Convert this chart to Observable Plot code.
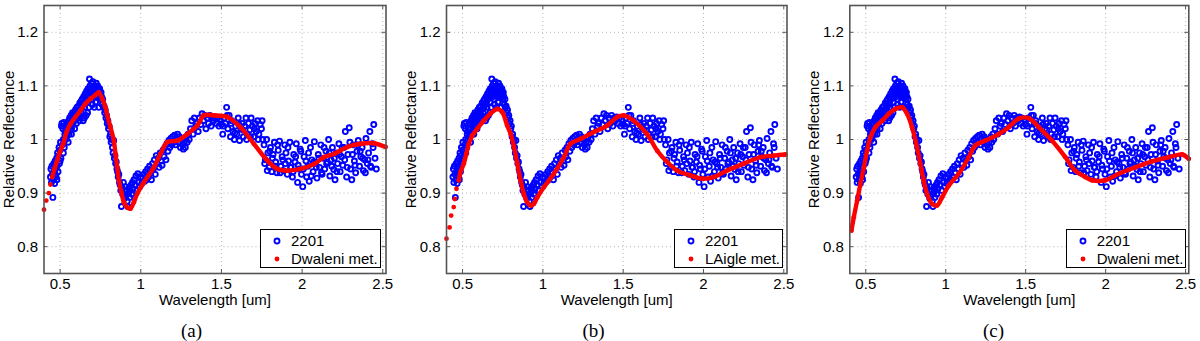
<!DOCTYPE html>
<html><head><meta charset="utf-8">
<script src="https://cdn.jsdelivr.net/npm/d3@7"></script>
<script src="https://cdn.jsdelivr.net/npm/@observablehq/plot@0.6"></script>
<style>
body{margin:0;background:#fff;}
#wrap{position:relative;width:1200px;height:341px;overflow:hidden;font-family:"Liberation Sans",Arial,sans-serif;}
.panel{position:absolute;top:0;}
.legend{position:absolute;background:#fff;border:1px solid #000;box-sizing:border-box;font-size:15px;color:#000;}
.legend .row{position:absolute;left:0;height:18px;line-height:18px;white-space:nowrap;}
.legend svg{position:absolute;top:4px;}
.legend span{position:absolute;}
.cap{position:absolute;top:321px;line-height:20px;font-family:"Liberation Serif","Times New Roman",serif;font-size:19px;transform:translateX(-50%);color:#000;}
</style></head><body><div id="wrap"></div>
<script>
// ---- data ----
const xTicks = [0.5, 1, 1.5, 2, 2.5];
const yTicks = [0.8, 0.9, 1.0, 1.1, 1.2];
const panelLabels = ["(a)", "(b)", "(c)"];
const blueName = "2201";
const redNames = ["Dwaleni met.", "LAigle met.", "Dwaleni met."];

// asteroid 2201 spectrum (blue circles)
const blueX = [
0.440,0.443,0.446,0.449,0.452,0.455,0.458,0.460,0.463,0.466,0.469,0.472,0.475,0.478,0.481,0.484,0.487,0.490,0.493,0.496,0.499,
0.502,0.505,0.508,0.511,0.514,0.517,0.520,0.523,0.526,0.529,0.532,0.535,0.538,0.541,0.544,0.547,0.550,0.553,0.556,0.559,
0.562,0.565,0.568,0.571,0.574,0.577,0.580,0.583,0.586,0.589,0.592,0.595,0.598,0.601,0.604,0.607,0.610,0.613,0.616,0.619,0.622,0.625,0.628,0.631,0.634,0.637,0.640,0.643,0.646,0.649,0.652,0.655,0.658,0.661,
0.664,0.667,0.670,0.673,0.676,0.679,0.682,0.685,0.688,0.691,0.694,0.697,0.700,0.703,0.706,0.709,0.712,0.715,0.718,0.721,0.724,0.727,0.730,0.733,0.736,0.739,0.742,0.745,0.748,0.751,0.754,0.757,0.760,0.764,0.768,0.772,0.776,0.780,0.784,0.788,0.792,0.796,
0.800,0.804,0.808,0.812,0.816,0.820,0.824,0.828,0.832,0.836,0.840,0.844,0.848,0.852,0.856,0.860,0.864,0.868,0.872,0.876,0.880,0.884,0.888,0.892,0.896,0.900,0.904,0.908,0.912,0.916,0.920,0.924,0.928,0.932,0.936,0.940,0.944,0.948,0.952,
0.958,0.964,0.970,0.976,0.982,0.988,0.994,1.000,1.006,1.012,1.018,1.024,1.030,1.036,1.042,1.048,1.054,1.060,1.066,1.072,1.078,1.084,1.090,1.096,1.102,1.108,1.114,
1.120,1.126,1.132,1.138,1.144,1.150,1.156,1.162,1.168,1.174,1.180,1.186,1.192,1.198,1.204,1.210,1.216,1.222,1.228,1.234,1.240,1.246,1.252,1.258,1.264,1.270,1.276,1.282,1.288,1.294,
1.300,1.308,1.316,1.324,1.332,1.340,1.348,1.356,1.364,1.372,1.380,1.388,1.396,1.404,1.412,1.420,1.428,1.436,1.444,1.452,1.460,1.468,1.476,1.484,1.492,1.500,
1.508,1.516,1.524,1.532,1.540,1.548,1.556,1.564,1.572,1.580,1.588,1.596,1.604,1.612,1.620,1.628,1.636,1.644,1.652,1.660,1.668,1.676,1.684,1.692,1.700,1.708,1.716,1.724,1.732,1.740,1.748,1.756,
1.764,1.772,1.780,1.788,1.796,1.804,1.812,1.820,1.828,1.836,1.844,1.852,1.860,1.868,1.876,1.884,1.892,1.900,1.908,1.916,1.924,1.932,1.940,1.948,1.956,1.964,1.972,1.980,1.988,1.996,
2.004,2.012,2.020,2.028,2.036,2.044,2.052,2.060,2.068,2.076,2.084,2.092,2.100,2.108,2.116,2.124,2.132,2.140,2.148,2.156,2.164,2.172,2.180,2.188,2.196,2.204,2.212,2.220,2.228,2.236,2.244,
2.252,2.260,2.268,2.276,2.284,2.292,2.300,2.308,2.316,2.324,2.332,2.340,2.348,2.356,2.364,2.372,2.380,2.388,2.396,2.404,2.412,2.420,2.428,2.436,2.444,2.452,2.460,
0.470,0.480,0.500,0.520,0.550,0.570,0.590,0.620,0.650,0.670,0.700,0.720,0.740,
1.512,1.536,1.560,1.584,1.608,1.632,1.656,1.680,1.704,1.728,1.752,
1.768,1.784,1.800,1.816,1.832,1.848,1.864,1.880,1.896,1.912,1.928,1.944,1.960,1.976,1.992,2.008,2.024,2.040,2.056,2.072,2.088,2.104,2.120,2.136,2.152,2.168,2.184,2.200,2.216,2.232,2.248,2.264,2.280,2.296,2.312,2.328,2.344,2.360,2.376,2.392,2.408,2.424,2.440
];
const blueY = [
0.930,0.945,0.920,0.950,0.935,0.892,0.925,0.955,0.940,0.918,0.960,0.945,0.930,0.965,0.950,0.975,0.940,0.970,0.985,0.955,0.980,
0.995,0.965,1.025,1.030,0.990,1.020,1.000,1.032,0.985,1.010,1.015,1.000,1.022,1.005,1.030,1.012,1.020,1.035,1.010,1.040,
1.025,1.030,1.045,1.020,1.038,1.050,1.030,1.045,1.035,1.050,1.040,1.055,1.045,1.030,1.060,1.050,1.040,1.062,1.055,1.045,1.068,1.058,1.050,1.072,1.060,1.075,1.065,1.035,1.080,1.070,1.060,1.085,1.075,1.045,
1.090,1.080,1.070,1.095,1.085,1.060,1.113,1.100,1.090,1.080,1.105,1.095,1.075,1.108,1.098,1.085,1.060,1.100,1.090,1.080,1.105,1.095,1.085,1.100,1.078,1.092,1.082,1.095,1.085,1.075,1.088,1.080,1.065,1.075,1.060,1.062,1.050,1.055,1.040,1.045,1.030,1.035,
1.020,1.025,1.005,1.010,0.995,1.000,0.985,0.975,0.998,0.965,0.970,0.955,0.958,0.945,0.940,0.930,0.935,0.920,0.915,0.905,0.875,0.910,0.898,0.920,0.905,0.890,0.912,0.895,0.905,0.885,0.875,0.900,0.910,0.892,0.905,0.915,0.898,0.920,0.908,
0.925,0.915,0.932,0.905,0.936,0.920,0.912,0.930,0.918,0.928,0.935,0.922,0.940,0.925,0.945,0.930,0.950,0.938,0.925,0.955,0.945,0.962,0.935,0.970,0.955,0.965,0.948,
0.975,0.960,0.952,0.980,0.968,0.985,0.962,0.992,0.978,0.998,0.985,1.002,0.990,1.005,0.995,1.008,0.990,1.000,1.010,0.995,1.005,0.985,1.000,0.990,0.982,0.995,0.985,1.005,0.995,1.010,
1.000,1.020,1.035,1.010,1.040,1.025,1.030,1.015,1.040,1.028,1.048,1.035,1.045,1.020,1.040,1.030,1.045,1.025,1.040,1.035,1.042,1.030,1.040,1.025,1.038,1.028,
1.010,1.040,1.030,1.060,1.020,1.045,1.005,1.035,1.015,1.000,1.025,1.010,1.040,0.998,1.020,1.030,1.005,1.025,1.040,1.010,1.030,1.018,1.040,1.025,1.005,1.030,1.015,1.035,1.010,1.028,1.020,1.000,
0.990,0.962,1.000,0.975,0.948,0.985,0.940,0.972,0.995,0.958,0.938,0.980,0.997,0.950,0.968,0.942,0.990,0.975,0.935,0.960,0.995,0.948,0.930,0.972,0.958,0.992,0.920,0.945,0.982,0.935,
0.912,0.968,0.998,0.930,0.950,0.922,0.985,0.962,0.940,0.996,0.955,0.928,0.972,0.948,0.990,0.935,0.965,0.945,0.978,0.958,1.000,0.932,0.962,0.985,0.944,0.925,0.975,0.955,0.992,0.940,0.968,
0.952,0.985,1.015,0.930,0.972,1.022,0.945,0.925,0.990,0.960,0.938,0.978,0.998,0.950,0.968,0.985,0.942,0.962,1.002,0.955,0.975,1.015,0.948,0.992,1.028,0.965,0.945,
0.935,0.925,0.960,0.975,0.995,1.010,1.020,1.035,1.040,1.050,1.065,1.070,1.060,
1.025,1.045,1.030,1.012,1.028,1.018,1.000,1.005,1.020,1.000,1.035,
0.955,0.942,0.978,0.965,0.950,0.990,0.938,0.962,0.955,0.985,0.948,0.940,0.968,0.952,0.978,0.945,0.960,0.975,0.932,0.958,0.948,0.965,0.938,0.985,0.955,0.975,0.950,0.965,0.940,0.972,0.985,0.962,0.948,0.995,0.972,0.952,0.990,0.978,0.965,0.938,0.962,0.950,0.985
];

// meteorite fits (red dots)
const redAX = [0.400,0.414,0.430,0.440,0.451,0.465,0.482,0.498,0.519,0.540,0.564,0.595,0.626,0.657,0.688,0.719,0.740,0.761,0.781,0.792,0.812,0.833,0.843,0.854,0.864,0.879,0.895,0.916,0.936,0.957,0.978,1.019,1.081,1.122,1.164,1.226,1.288,1.350,1.391,1.453,1.536,1.618,1.701,1.784,1.846,1.908,1.990,2.073,2.135,2.197,2.280,2.362,2.445,2.517];
const redAY = [0.869,0.886,0.900,0.916,0.930,0.945,0.961,0.976,0.992,1.014,1.029,1.042,1.054,1.067,1.076,1.083,1.088,1.076,1.060,1.045,1.023,0.998,0.973,0.948,0.924,0.902,0.883,0.873,0.871,0.883,0.899,0.920,0.948,0.973,0.995,0.998,1.010,1.026,1.045,1.045,1.042,1.023,0.992,0.961,0.945,0.942,0.945,0.954,0.967,0.973,0.986,0.992,0.993,0.986];
const redBX = [0.400,0.419,0.429,0.445,0.452,0.462,0.477,0.487,0.508,0.523,0.539,0.560,0.591,0.632,0.673,0.716,0.747,0.778,0.800,0.820,0.841,0.861,0.881,0.902,0.923,0.944,0.965,1.006,1.068,1.131,1.172,1.234,1.317,1.400,1.463,1.504,1.566,1.649,1.712,1.774,1.836,1.919,1.992,2.064,2.147,2.251,2.355,2.438,2.510];
const redBY = [0.815,0.836,0.858,0.874,0.889,0.908,0.924,0.939,0.955,0.973,0.992,1.007,1.020,1.035,1.048,1.057,1.051,1.026,1.010,0.986,0.955,0.924,0.899,0.883,0.877,0.880,0.892,0.911,0.936,0.967,0.992,1.001,1.014,1.026,1.042,1.045,1.035,1.010,0.979,0.958,0.942,0.933,0.927,0.930,0.942,0.955,0.967,0.970,0.972];
const redCX = [0.410,0.425,0.446,0.466,0.488,0.508,0.529,0.560,0.602,0.644,0.685,0.727,0.758,0.789,0.820,0.841,0.862,0.883,0.914,0.946,0.977,1.019,1.081,1.144,1.185,1.248,1.331,1.394,1.456,1.519,1.581,1.664,1.748,1.810,1.872,1.914,1.998,2.081,2.185,2.290,2.394,2.478,2.520];
const redCY = [0.830,0.855,0.886,0.917,0.948,0.979,1.004,1.023,1.035,1.048,1.057,1.060,1.048,1.023,0.986,0.955,0.924,0.899,0.880,0.877,0.892,0.914,0.936,0.967,0.989,0.998,1.010,1.023,1.039,1.040,1.023,0.998,0.967,0.942,0.930,0.924,0.924,0.936,0.948,0.959,0.967,0.972,0.964];

// ---- build ----
const blue = blueX.map((x, i) => ({x, y: blueY[i]}));
const reds = [[redAX, redAY], [redBX, redBY], [redCX, redCY]].map(([xs, ys]) => xs.map((x, i) => ({x, y: ys[i]})));

const layout = [
  {left: 0,   frameL: 43.5,  frameR: 385.5,  legL: 260,    legW: 121,   cap: 191.5, lineFrom: 0.45},
  {left: 400, frameL: 446,   frameR: 786.5,  legL: 674,    legW: 108.5, cap: 593.5, lineFrom: 0.47},
  {left: 800, frameL: 849.3, frameR: 1188.3, legL: 1065.7, legW: 120,   cap: 993.5, lineFrom: 0.40}
];
const frameTop = 5, frameBottom = 273, H = 341;
const BLUE = "#0000ff", RED = "#ff0000", AX = "#555";
const fmt = d => String(+d.toFixed(2));
const wrap = document.getElementById("wrap");

layout.forEach((L, k) => {
  const W = 400;
  const mL = L.frameL - L.left, mR = W - (L.frameR - L.left);
  const plotW = W - mL - mR, plotH = frameBottom - frameTop;
  const red = reds[k];
  const svg = Plot.plot({
    width: W, height: H,
    marginLeft: mL, marginRight: mR, marginTop: frameTop, marginBottom: H - frameBottom,
    style: {fontFamily: '"Liberation Sans", Arial, sans-serif', fontSize: "15px", color: "#000", background: "transparent"},
    x: {domain: [0.4, 2.52]},
    y: {domain: [0.75, 1.25]},
    marks: [
      Plot.gridX(xTicks, {stroke: "#b8b8b8", strokeOpacity: 1, strokeDasharray: "1,3"}),
      Plot.gridY(yTicks, {stroke: "#b8b8b8", strokeOpacity: 1, strokeDasharray: "1,3"}),
      Plot.axisX(xTicks, {tickSize: 0, tickPadding: 5, tickFormat: fmt, label: "Wavelength [um]", labelAnchor: "center", labelArrow: "none", labelOffset: 31}),
      Plot.axisY(yTicks, {tickSize: 0, tickPadding: 6, tickFormat: fmt, label: "Relative Reflectance", labelAnchor: "center", labelArrow: "none", labelOffset: 41}),
      Plot.dot(blue, {x: "x", y: "y", r: 2.5, stroke: BLUE, strokeWidth: 1.9, fill: "none"}),
      Plot.line(red.filter(d => d.x >= L.lineFrom), {x: "x", y: "y", stroke: RED, strokeWidth: 4.4, curve: "catmull-rom"}),
      Plot.dot(red, {x: "x", y: "y", r: 2.4, fill: RED}),
      Plot.tickX(xTicks, {x: d => d, stroke: AX, insetTop: plotH - 4}),
      Plot.tickX(xTicks, {x: d => d, stroke: AX, insetBottom: plotH - 4}),
      Plot.tickY(yTicks, {y: d => d, stroke: AX, insetRight: plotW - 4}),
      Plot.tickY(yTicks, {y: d => d, stroke: AX, insetLeft: plotW - 4}),
      Plot.frame({stroke: AX, strokeWidth: 1.6})
    ]
  });
  svg.classList.add("panel");
  svg.style.left = L.left + "px";
  wrap.appendChild(svg);

  // legend
  const leg = document.createElement("div");
  leg.className = "legend";
  leg.style.left = L.legL + "px";
  leg.style.top = "229px";
  leg.style.width = L.legW + "px";
  leg.style.height = "39px";
  const rows = [
    {name: blueName, marker: `<circle cx="5" cy="5" r="2.5" fill="none" stroke="${BLUE}" stroke-width="1.9"/>`, top: 2},
    {name: redNames[k], marker: `<circle cx="5" cy="5" r="2.4" fill="${RED}"/>`, top: 20}
  ];
  rows.forEach(r => {
    const row = document.createElement("div");
    row.className = "row";
    row.style.top = r.top + "px";
    row.innerHTML = `<svg width="10" height="10" style="left:11px">${r.marker}</svg><span style="left:30px">${r.name}</span>`;
    leg.appendChild(row);
  });
  wrap.appendChild(leg);

  const cap = document.createElement("div");
  cap.className = "cap";
  cap.style.left = L.cap + "px";
  cap.textContent = panelLabels[k];
  wrap.appendChild(cap);
});
</script></body></html>
